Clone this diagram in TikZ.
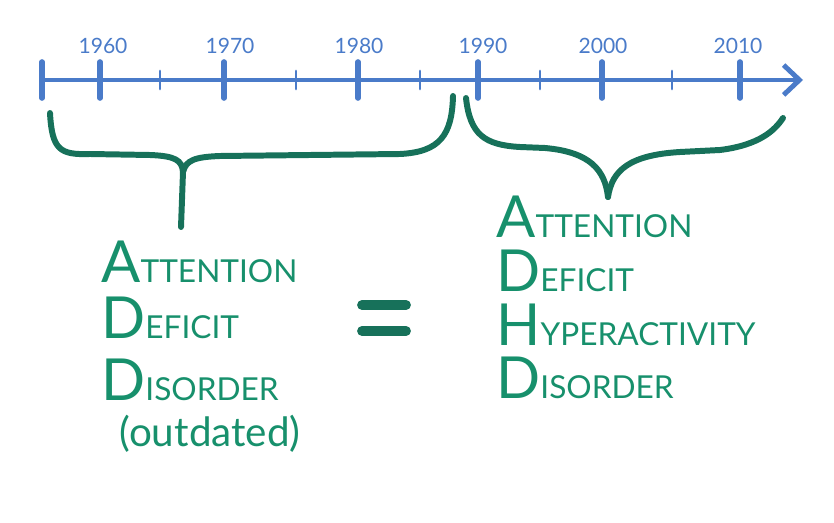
\documentclass[tikz,border=0pt]{standalone}
\usepackage{fontspec}
\setmainfont{Lato}
\usepackage{tikz}
\usetikzlibrary{arrows.meta}
\definecolor{lineblue}{HTML}{4A7BC9}
\definecolor{bracegreen}{HTML}{17715A}
\definecolor{wordgreen}{HTML}{17906C}
\newcommand{\firstletter}[2]{{\fontsize{33}{35}\selectfont #1}{\fontsize{18}{20}\selectfont #2}}

\begin{document}
\begin{tikzpicture}[x=0.02cm,y=-0.02cm,
        axis/.style={lineblue, line width=2.8pt, line cap=round},
        yearlabel/.style={lineblue, font=\fontsize{12}{14}\selectfont, inner sep=0pt},
        brace/.style={bracegreen, line width=3.4pt, line cap=round, line join=round},
        word/.style={wordgreen, anchor=base west, inner sep=0pt}]
        \useasboundingbox (0,0) rectangle (834,523);

        \coordinate (t0) at (42,80);
        \coordinate (t1) at (803,80);
        \draw[axis, -{Straight Barb[length=9pt, width=17pt]}] (t0) -- (t1);
        \draw[axis, line width=3.2pt] (42,62) -- (42,98);
        \foreach \x in {100,224,358,478,602,740}
            \draw[axis, line width=3.2pt] (\x,62) -- (\x,98);
        \foreach \x in {160,296,420,540,672}
            \draw[axis, line width=1.6pt] (\x,71) -- (\x,89);

        \foreach \x/\yr in {103/1960, 230/1970, 359/1980, 483/1990, 603/2000, 738/2010}
            \node[yearlabel] (y\yr) at (\x,46) {\yr};

        \draw[brace] (50,113) .. controls (52,150) and (60,155) .. (90,154) -- (150,155)
            .. controls (175,156) and (182,160) .. (183,172) -- (181,227);
        \draw[brace] (183,172) .. controls (186,160) and (195,157) .. (220,156) -- (400,154)
            .. controls (440,152) and (452,135) .. (453,96);

        \draw[brace] (466,98) .. controls (470,135) and (485,145) .. (520,147) -- (545,148)
            .. controls (590,152) and (605,170) .. (608,197);
        \draw[brace] (608,197) .. controls (612,170) and (630,155) .. (680,152) -- (720,150)
            .. controls (760,145) and (775,130) .. (783,118);

        \node[word] (a1) at (101,282) {\firstletter{A}{TTENTION}};
        \node[word] (a2) at (101,338) {\firstletter{D}{EFICIT}};
        \node[word] (a3) at (101,400) {\firstletter{D}{ISORDER}};
        \node[wordgreen, font=\fontsize{23}{25}\selectfont, inner sep=0pt] (a4) at (210,434) {(outdated)};

        \draw[bracegreen, line width=5.6pt, line cap=round] (362,305) -- (406,305);
        \draw[bracegreen, line width=5.6pt, line cap=round] (362,331) -- (406,331);

        \node[word] (b1) at (496,238) {\firstletter{A}{TTENTION}};
        \node[word] (b2) at (496,292) {\firstletter{D}{EFICIT}};
        \node[word] (b3) at (496,345) {\firstletter{H}{YPERACTIVITY}};
        \node[word] (b4) at (496,398) {\firstletter{D}{ISORDER}};
    \end{tikzpicture}
\end{document}
